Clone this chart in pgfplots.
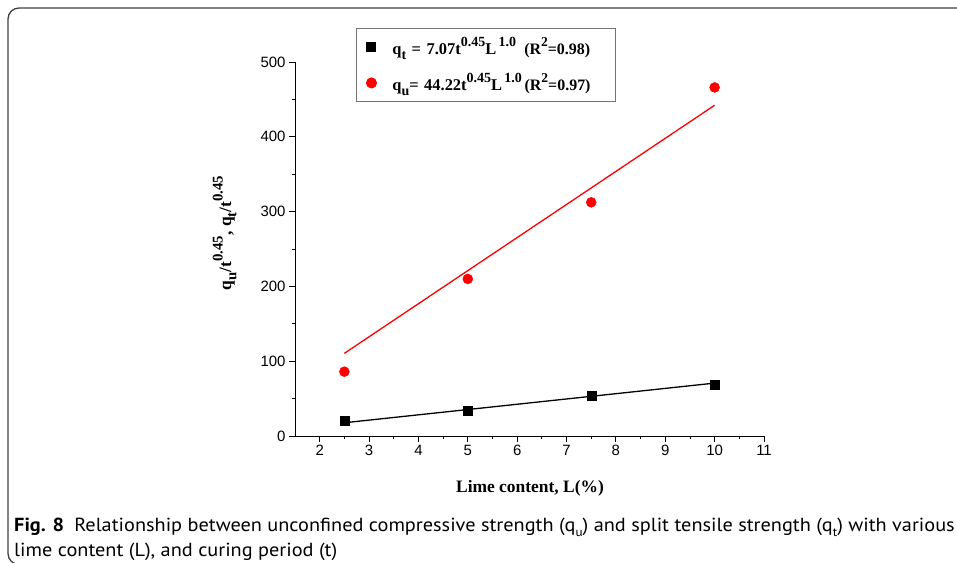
\documentclass[border=0pt]{standalone}
\usepackage{fontspec}
\setmainfont{Liberation Serif}
\newfontfamily\arial{Liberation Sans}
\newfontfamily\capfont{PT Sans}
\usepackage{graphicx}
\usepackage{pgfplots}
\pgfplotsset{compat=1.18}

\newcommand\sups[1]{\raisebox{0.5em}{\scalebox{0.85}{#1}}}
\newcommand\subs[1]{\raisebox{-0.3em}{\scalebox{0.85}{#1}}}
\newcommand\capsub[1]{\raisebox{-0.25em}{\scalebox{0.65}{#1}}}
\newcommand\capone{\capfont\fontsize{19}{19}\selectfont\textbf{Fig. 8}\enspace Relationship between unconfined compressive strength (q\capsub{u}) and split tensile strength (q\capsub{t}) with various}

\newlength\capw
\begin{document}
\settowidth{\capw}{\capone}%
\pgfmathsetmacro\capf{944.1/\capw}%
\begin{tikzpicture}[x=1bp,y=1bp]
\useasboundingbox (0,0) rectangle (957,563);
\begin{scope}
  \clip (0,0) rectangle (957,563);
  \draw[line width=1.3bp, black!75, rounded corners=11bp] (975,555) -- (8,555) -- (8,-1.5) -- (40,-1.5);
\end{scope}

\begin{axis}[
    at={(295bp,127bp)}, anchor=south west,
    scale only axis, width=469bp, height=374bp,
    xmin=1.5, xmax=11, ymin=0, ymax=500,
    axis x line*=bottom, axis y line*=left,
    axis line style={-, line width=0.9bp},
    xtick={2,3,...,11}, ytick={0,100,...,500},
    minor x tick num=1, minor y tick num=1,
    tick align=outside,
    major tick length=6bp, minor tick length=3.5bp,
    tick style={black, line width=0.9bp},
    /pgf/number format/assume math mode=true,
    ticklabel style={font=\arial\fontsize{15}{15}\selectfont},
    xlabel={\textbf{Lime content, L(\%)}},
    xlabel style={at={(axis description cs:0.501,-0.152)}, anchor=base,
                  font=\fontsize{17.5}{17.5}\selectfont},
    ylabel={\textbf{q\subs{u}/t\sups{0.45}, q\subs{t}/t\sups{0.45}}},
    ylabel style={at={(axis description cs:-0.150,0.543)}, anchor=center,
                  font=\fontsize{17.5}{17.5}\selectfont},
    legend style={at={(axis description cs:0.130,1.091)}, anchor=north west,
                  draw=black!55, line width=1bp,
                  font=\fontsize{16.5}{16.5}\selectfont\bfseries,
                  row sep=13bp, inner xsep=6bp, inner ysep=7bp,
                  text width=215bp},
    legend image code/.code={%
        \path[draw=none, fill=none] (0bp,-4bp) rectangle (28bp,4bp);
        \draw[#1] plot coordinates {(9bp,0bp)};},
    legend cell align=left,
    clip=false,
]
\addplot[only marks, mark=square*, mark size=4.5bp, black]
    coordinates {(2.5,20.0) (5,33.8) (7.5,53.9) (10,68.2)};
\addlegendentry{q\subs{t} = 7.07t\sups{0.45}L\sups{\,1.0}\enspace{\fontsize{16}{16}\selectfont(R\sups{2}=0.98)}}
\addplot[only marks, mark=*, mark size=5bp, red]
    coordinates {(2.5,86) (5,210) (7.5,312.4) (10,466)};
\addlegendentry{q\subs{u}= 44.22t\sups{0.45}L\sups{\,1.0}\,{\fontsize{16}{16}\selectfont(R\sups{2}=0.97)}}
\addplot[black, line width=1.3bp, forget plot]
    coordinates {(2.5,17.7) (10,70.7)};
\addplot[red, line width=1.3bp, forget plot]
    coordinates {(2.5,110.5) (10,442.2)};
\end{axis}

\node[anchor=base west, inner sep=0pt] at (14,31) {\scalebox{\capf}[1]{\capone}};
\node[anchor=base west, inner sep=0pt] at (14,6) {\scalebox{\capf}[1]{\capfont\fontsize{19}{19}\selectfont lime content (L), and curing period (t)}};
\end{tikzpicture}
\end{document}
